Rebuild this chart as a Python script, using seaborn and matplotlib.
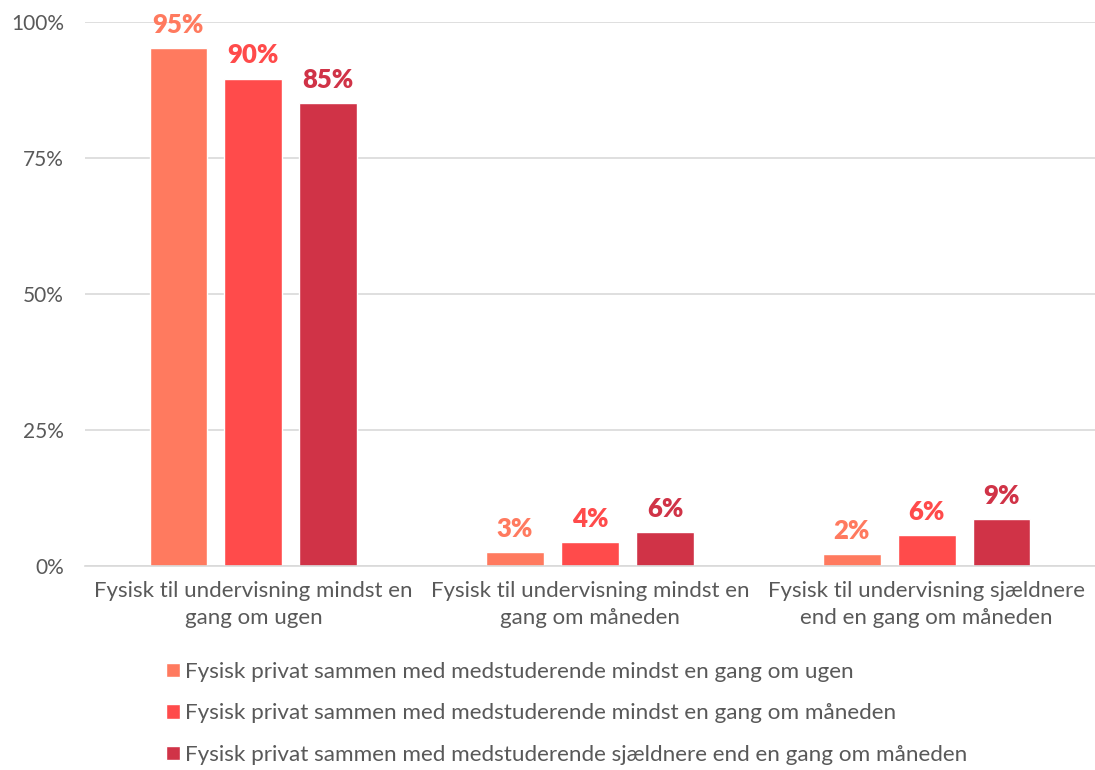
import matplotlib
matplotlib.use("Agg")
import matplotlib.pyplot as plt
import seaborn as sns
import pandas as pd
from matplotlib.ticker import PercentFormatter

# Data
categories = [
    "Fysisk til undervisning mindst en\ngang om ugen",
    "Fysisk til undervisning mindst en\ngang om måneden",
    "Fysisk til undervisning sjældnere\nend en gang om måneden",
]
series = [
    "Fysisk privat sammen med medstuderende mindst en gang om ugen",
    "Fysisk privat sammen med medstuderende mindst en gang om måneden",
    "Fysisk privat sammen med medstuderende sjældnere end en gang om måneden",
]
weekly = [95.2, 2.6, 2.2]
monthly = [89.6, 4.4, 5.7]
rarely = [85.1, 6.2, 8.6]
colors = ["#FF7A5F", "#FF4B4B", "#D03347"]

rows = []
for s, vals in zip(series, [weekly, monthly, rarely]):
    for c, v in zip(categories, vals):
        rows.append({"category": c, "series": s, "value": v})
df = pd.DataFrame(rows)

sns.set_style("white")
plt.rcParams["font.family"] = ["Lato", "DejaVu Sans"]

fig = plt.figure(figsize=(10.95, 7.7), dpi=100)
ax = fig.add_axes([85 / 1095, 1 - 566 / 770, 1010 / 1095, 544 / 770])

sns.barplot(data=df, x="category", y="value", hue="series", order=categories,
            hue_order=series, palette=colors, width=0.668, gap=0.23,
            saturation=1, ax=ax, legend=True)

ax.set_ylim(0, 100)
ax.set_xlim(-0.5, 2.5)
ax.yaxis.set_major_formatter(PercentFormatter(100, decimals=0))
ax.set_yticks([0, 25, 50, 75, 100])
ax.set_xticks(range(len(categories)), categories, linespacing=1.45)
ax.grid(axis="y", color="#D9D9D9", linewidth=1.2)
ax.set_axisbelow(True)
for side in ["top", "right", "left"]:
    ax.spines[side].set_visible(False)
ax.spines["bottom"].set_color("#D9D9D9")
ax.spines["bottom"].set_linewidth(1.2)
ax.tick_params(axis="y", length=0, pad=15, labelsize=15, labelcolor="#595959")
ax.tick_params(axis="x", length=0, pad=11, labelsize=16, labelcolor="#595959")
ax.set_xlabel("")
ax.set_ylabel("")

for container, col in zip(ax.containers, colors):
    labels = [f"{round(b.get_height()):.0f}%" for b in container]
    ax.bar_label(container, labels=labels, padding=8, color=col,
                 fontsize=18.5, fontweight="heavy")

leg = ax.legend(loc="upper left", bbox_to_anchor=(72 / 1010, -0.16), frameon=False,
                fontsize=16.2, handlelength=0.6, handleheight=0.6,
                handletextpad=0.25, labelspacing=0.95, borderaxespad=0)
for t in leg.get_texts():
    t.set_color("#595959")

fig.savefig("out.png", dpi=100)
